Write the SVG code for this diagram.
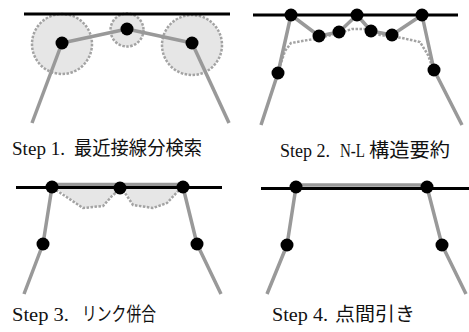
<svg xmlns="http://www.w3.org/2000/svg" width="469" height="332" viewBox="0 0 469 332">
<style>
.base{stroke:#000;stroke-width:3;fill:none}
.link{stroke:#999;stroke-width:3.5;fill:none;stroke-linecap:butt;stroke-linejoin:round}
.dot{stroke:#a3a3a3;stroke-width:2.5;fill:none;stroke-dasharray:2.5 1.5}
.zone{fill:#e6e6e6;stroke:#a3a3a3;stroke-width:2.5;stroke-dasharray:2.5 1.5}
.shade{fill:#e6e6e6;stroke:none}
.node{fill:#000}
.lbl{font-family:"Liberation Serif","Noto Sans CJK JP",serif;font-size:19px;fill:#111}
</style>
<rect width="469" height="332" fill="#fff"/>
<!-- Panel 1 -->
<g id="panel1">
  <g id="p1-zones">
    <circle class="zone" cx="62" cy="44" r="30"/>
    <circle class="zone" cx="127" cy="30" r="16.5"/>
    <circle class="zone" cx="192" cy="45" r="30"/>
  </g>
  <line class="base" x1="24" y1="14" x2="230" y2="14"/>
  <g id="p1-connectors">
    <polyline class="link" points="62,43 127,29 192,43"/>
    <line class="link" x1="62" y1="43" x2="32" y2="123"/>
    <line class="link" x1="192" y1="43" x2="229" y2="123"/>
  </g>
  <g id="p1-n1"><circle class="node" cx="62" cy="43" r="6.5"/></g>
  <g id="p1-n2"><circle class="node" cx="127" cy="29" r="6.5"/></g>
  <g id="p1-n3"><circle class="node" cx="192" cy="43" r="6.5"/></g>
  <g id="p1-label">
    <text class="lbl" x="12" y="155" textLength="53" lengthAdjust="spacingAndGlyphs">Step 1.</text>
    <text class="lbl" x="74" y="155" textLength="128" lengthAdjust="spacingAndGlyphs">最近接線分検索</text>
  </g>
</g>
<!-- Panel 2 -->
<g id="panel2">
  <line class="base" x1="253" y1="15" x2="458" y2="15"/>
  <g id="p2-connectors">
    <path class="dot" d="M280,66 L285,51 L291,43 L314,39 L340,33 L352,29 L365,29 L380,35 L402,38 L420,42 L428,55 L432,66"/>
    <polyline class="link" points="291,15 319,36 339,32 357,15 371,31 392,35 422,15"/>
    <polyline class="link" points="261,125 278,73 291,15"/>
    <polyline class="link" points="462,125 434,70 422,15"/>
  </g>
  <g id="p2-n1"><circle class="node" cx="291" cy="15" r="6.5"/></g>
  <g id="p2-n2"><circle class="node" cx="357" cy="15" r="6.5"/></g>
  <g id="p2-n3"><circle class="node" cx="422" cy="15" r="6.5"/></g>
  <g id="p2-n4"><circle class="node" cx="319" cy="36" r="6.5"/></g>
  <g id="p2-n5"><circle class="node" cx="339" cy="32" r="6.5"/></g>
  <g id="p2-n6"><circle class="node" cx="371" cy="31" r="6.5"/></g>
  <g id="p2-n7"><circle class="node" cx="392" cy="35" r="6.5"/></g>
  <g id="p2-n8"><circle class="node" cx="278" cy="73" r="6.5"/></g>
  <g id="p2-n9"><circle class="node" cx="434" cy="70" r="6.5"/></g>
  <g id="p2-label">
    <text class="lbl" x="280" y="157" textLength="50" lengthAdjust="spacingAndGlyphs">Step 2.</text>
    <text class="lbl" x="340" y="157" textLength="25" lengthAdjust="spacingAndGlyphs">N-L</text>
    <text class="lbl" x="369" y="157" textLength="81" lengthAdjust="spacingAndGlyphs">構造要約</text>
  </g>
</g>
<!-- Panel 3 -->
<g id="panel3">
  <path class="shade" d="M52,187 L60,191 L83,208 L103,206 L112,196 L120,188 L125,191 L133,205 L153,208 L167,203 L177,192 L183,187 Z"/>
  <g id="p3-connectors">
    <polyline class="dot" points="56,190 83,208 103,206 112,196 119,190"/>
    <polyline class="dot" points="123,190 133,205 153,208 167,203 180,189"/>
    <line class="link" x1="52" y1="184.5" x2="183" y2="184.5" stroke-width="4"/>
    <polyline class="link" points="52,187 43,244 24,294"/>
    <polyline class="link" points="183,187 197,244 221,294"/>
  </g>
  <line class="base" x1="16" y1="187.5" x2="222" y2="187.5"/>
  <g id="p3-n1"><circle class="node" cx="52" cy="187" r="6.5"/></g>
  <g id="p3-n2"><circle class="node" cx="120" cy="188" r="6.5"/></g>
  <g id="p3-n3"><circle class="node" cx="183" cy="187" r="6.5"/></g>
  <g id="p3-n4"><circle class="node" cx="43" cy="244" r="6.5"/></g>
  <g id="p3-n5"><circle class="node" cx="197" cy="244" r="6.5"/></g>
  <g id="p3-label">
    <text class="lbl" x="12" y="321" textLength="57" lengthAdjust="spacingAndGlyphs">Step 3.</text>
    <text class="lbl" x="82" y="321" textLength="74" lengthAdjust="spacingAndGlyphs">リンク併合</text>
  </g>
</g>
<!-- Panel 4 -->
<g id="panel4">
  <g id="p4-connectors">
    <line class="link" x1="296" y1="185" x2="427" y2="185" stroke-width="4"/>
    <polyline class="link" points="296,187 287,245 267,294"/>
    <polyline class="link" points="427,187 442,245 466,294"/>
  </g>
  <line class="base" x1="261" y1="188.5" x2="469" y2="188.5"/>
  <g id="p4-n1"><circle class="node" cx="296" cy="187" r="6.5"/></g>
  <g id="p4-n2"><circle class="node" cx="427" cy="187" r="6.5"/></g>
  <g id="p4-n3"><circle class="node" cx="287" cy="245" r="6.5"/></g>
  <g id="p4-n4"><circle class="node" cx="442" cy="245" r="6.5"/></g>
  <g id="p4-label">
    <text class="lbl" x="272" y="321" textLength="56" lengthAdjust="spacingAndGlyphs">Step 4.</text>
    <text class="lbl" x="335" y="321" textLength="80" lengthAdjust="spacingAndGlyphs">点間引き</text>
  </g>
</g>
</svg>
